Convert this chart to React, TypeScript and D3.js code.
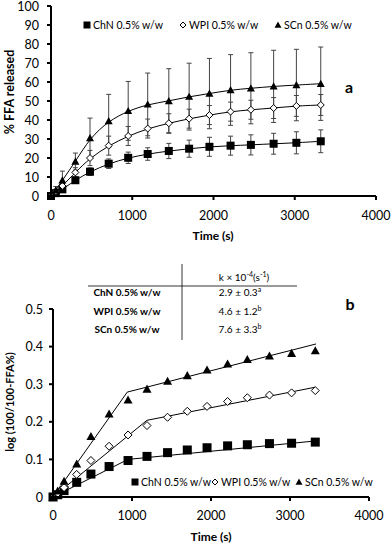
import React from "react";
import * as d3 from "d3";

// sampling times (s)
const times = [0, 60, 140, 300, 480, 710, 950, 1190, 1450, 1700, 1950, 2210, 2460, 2740, 3020, 3320];

const seriesNames = ["ChN 0.5% w/w", "WPI 0.5% w/w", "SCn 0.5% w/w"];
const seriesShapes = ["square", "diamond", "triangle"];

// panel a: % FFA released, mean and sd
const chnFfa = [0, 1.5, 3.5, 8.3, 12.8, 17, 20.1, 22.1, 23.7, 24.9, 25.9, 26.5, 26.9, 27.5, 28, 28.8];
const wpiFfa = [0, 2.5, 5.3, 12.4, 20, 26.5, 31.6, 35.5, 38.3, 40.7, 42.6, 44.4, 45.4, 46.3, 47.4, 47.9];
const scnFfa = [0, 3, 8.3, 18.1, 30.5, 39.5, 44.8, 48.2, 50, 52.3, 53.9, 55.8, 56.7, 57.7, 58.4, 59.1];
const chnSd = [0, 0.5, 1, 1.5, 2, 2.5, 3, 3.3, 4, 4.5, 5, 5, 5.3, 5.5, 5.8, 6];
const wpiSd = [0, 1, 1.5, 2.5, 4, 5, 5, 5, 5, 5, 5, 5, 5, 5.5, 5.5, 5.5];
const scnSd = [0, 2, 4.8, 4.5, 10.5, 14, 15.5, 16.5, 17, 17.6, 18.5, 18.6, 18.7, 19, 18.8, 19.3];

// panel b: log(100/(100-FFA%))
const chnLog = [0, 0.006, 0.017, 0.039, 0.061, 0.081, 0.097, 0.108, 0.118, 0.125, 0.131, 0.136, 0.139, 0.142, 0.143, 0.146];
const wpiLog = [0, 0.01, 0.025, 0.06, 0.097, 0.135, 0.165, 0.19, 0.212, 0.228, 0.241, 0.254, 0.264, 0.271, 0.277, 0.283];
const scnLog = [0, 0.016, 0.042, 0.088, 0.161, 0.221, 0.258, 0.287, 0.308, 0.323, 0.338, 0.354, 0.366, 0.375, 0.382, 0.389];

// two-phase linear fits [time, value]
const chnFit: [number, number][] = [[0, 0], [950, 0.1], [3320, 0.149]];
const wpiFit: [number, number][] = [[0, 0], [1190, 0.204], [3320, 0.292]];
const scnFit: [number, number][] = [[0, 0], [940, 0.279], [3330, 0.407]];

// rate constant table
const kValues = ["2.9 ± 0.3", "4.6 ± 1.2", "7.6 ± 3.3"];
const kLetters = ["a", "b", "b"];

const topTicksX = [0, 1000, 2000, 3000, 4000];
const topTicksY = [0, 10, 20, 30, 40, 50, 60, 70, 80, 90, 100];
const botTicksY = [0, 0.1, 0.2, 0.3, 0.4, 0.5];

const FONT = "Lato, 'Open Sans', sans-serif";

function Marker({ shape, x, y, s }: { shape: string; x: number; y: number; s: number }) {
  if (shape === "square") {
    return <rect x={x - s / 2} y={y - s / 2} width={s} height={s} fill="#000" />;
  }
  if (shape === "diamond") {
    const h = s / 2;
    return (
      <path
        d={`M${x},${y - h}L${x + h},${y}L${x},${y + h}L${x - h},${y}Z`}
        fill="#fff"
        stroke="#000"
        strokeWidth={1}
      />
    );
  }
  const h = s / 2;
  return <path d={`M${x},${y - h}L${x + h},${y + h * 0.8}L${x - h},${y + h * 0.8}Z`} fill="#000" />;
}

export default function App() {
  const xA = d3.scaleLinear().domain([0, 4000]).range([51, 376]);
  const yA = d3.scaleLinear().domain([0, 100]).range([196, 6]);
  const xB = d3.scaleLinear().domain([0, 4000]).range([53, 369]);
  const yB = d3.scaleLinear().domain([0, 0.5]).range([497, 309]);

  const ffa = [chnFfa, wpiFfa, scnFfa];
  const sds = [chnSd, wpiSd, scnSd];
  const logs = [chnLog, wpiLog, scnLog];
  const fits = [chnFit, wpiFit, scnFit];

  // smooth fitted curve through the means
  const curve = d3
    .line<number>()
    .x((_, i) => xA(times[i]))
    .y((d) => yA(d))
    .curve(d3.curveBasis);
  const fitLine = d3
    .line<[number, number]>()
    .x((d) => xB(d[0]))
    .y((d) => yB(d[1]));

  const topLegend = [87, 183, 278];
  const botLegend = [135, 215, 299];

  return (
    <svg
      width={392}
      height={544}
      style={{ position: "absolute", left: 0, top: 0, background: "#fff" }}
      fontFamily={FONT}
    >
      {/* ---------- panel a ---------- */}
      <g>
        {/* error bars */}
        {ffa.map((vals, si) =>
          vals.map((v, i) => {
            const sd = sds[si][i];
            if (!sd) return null;
            const x = xA(times[i]);
            const y1 = yA(v + sd);
            const y2 = yA(v - sd);
            return (
              <g key={`eb${si}-${i}`} stroke="#444" strokeWidth={1}>
                <line x1={x} x2={x} y1={y1} y2={y2} />
                <line x1={x - 2.5} x2={x + 2.5} y1={y1} y2={y1} />
                <line x1={x - 2.5} x2={x + 2.5} y1={y2} y2={y2} />
              </g>
            );
          })
        )}
        {ffa.map((vals, si) => (
          <path key={`c${si}`} d={curve(vals) || ""} fill="none" stroke="#000" strokeWidth={1} />
        ))}
        {ffa.map((vals, si) =>
          vals.map((v, i) => (
            <Marker
              key={`m${si}-${i}`}
              shape={seriesShapes[si]}
              x={xA(times[i])}
              y={yA(v)}
              s={si === 1 ? 7 : 8}
            />
          ))
        )}
        {/* axes */}
        <line x1={xA(0)} x2={xA(0)} y1={yA(100)} y2={yA(0) + 1} stroke="#000" strokeWidth={2} />
        <line x1={xA(0) - 1} x2={xA(4000)} y1={yA(0)} y2={yA(0)} stroke="#000" strokeWidth={2} />
        {topTicksY.map((t) => (
          <g key={`ty${t}`}>
            <line x1={xA(0) - 4} x2={xA(0)} y1={yA(t)} y2={yA(t)} stroke="#000" strokeWidth={2} />
            <text x={39} y={yA(t) + 4.5} fontSize={12.5} textAnchor="end">
              {t}
            </text>
          </g>
        ))}
        {topTicksX.map((t) => (
          <g key={`tx${t}`}>
            <line x1={xA(t)} x2={xA(t)} y1={yA(0)} y2={yA(0) + 4} stroke="#000" strokeWidth={2} />
            <text x={xA(t)} y={220} fontSize={12.5} textAnchor="middle">
              {t}
            </text>
          </g>
        ))}
        <text x={213} y={240} fontSize={12} fontWeight="bold" textAnchor="middle">
          Time (s)
        </text>
        <text
          transform="translate(14,92) rotate(-90)"
          fontSize={12.5}
          fontWeight="bold"
          textAnchor="middle"
        >
          % FFA released
        </text>
        {seriesNames.map((n, i) => (
          <g key={`tl${i}`}>
            <Marker shape={seriesShapes[i]} x={topLegend[i]} y={25} s={i === 1 ? 6 : 7} />
            <text x={topLegend[i] + 6} y={28.5} fontSize={10.5}>
              {n}
            </text>
          </g>
        ))}
        <text x={349} y={93} fontSize={16} fontWeight="bold" textAnchor="middle">
          a
        </text>
      </g>

      {/* ---------- table ---------- */}
      <g fontSize={10}>
        <line x1={88} x2={297} y1={286} y2={286} stroke="#000" strokeWidth={0.8} />
        <line x1={182} x2={182} y1={264} y2={340} stroke="#000" strokeWidth={0.8} />
        <text x={244} y={281} textAnchor="middle">
          k × 10
          <tspan dy={-4} fontSize={7}>
            -4
          </tspan>
          <tspan dy={4}>(s</tspan>
          <tspan dy={-4} fontSize={7}>
            -1
          </tspan>
          <tspan dy={4}>)</tspan>
        </text>
        {seriesNames.map((n, i) => (
          <g key={`row${i}`}>
            <text x={127} y={296 + i * 18.5} textAnchor="middle" fontWeight="bold">
              {n}
            </text>
            <text x={240} y={296 + i * 18.5} textAnchor="middle">
              {kValues[i]}
              <tspan dy={-4} fontSize={7}>
                {kLetters[i]}
              </tspan>
            </text>
          </g>
        ))}
      </g>

      {/* ---------- panel b ---------- */}
      <g>
        {fits.map((f, si) => (
          <path key={`f${si}`} d={fitLine(f) || ""} fill="none" stroke="#000" strokeWidth={1} />
        ))}
        {logs.map((vals, si) =>
          vals.map((v, i) => (
            <Marker
              key={`b${si}-${i}`}
              shape={seriesShapes[si]}
              x={xB(times[i])}
              y={yB(v)}
              s={si === 1 ? 8 : 9}
            />
          ))
        )}
        <line x1={xB(0)} x2={xB(0)} y1={yB(0.5)} y2={yB(0) + 1} stroke="#000" strokeWidth={2} />
        <line x1={xB(0) - 1} x2={xB(4000)} y1={yB(0)} y2={yB(0)} stroke="#000" strokeWidth={2} />
        {botTicksY.map((t) => (
          <g key={`by${t}`}>
            <line x1={xB(0) - 4} x2={xB(0)} y1={yB(t)} y2={yB(t)} stroke="#000" strokeWidth={2} />
            <text x={43} y={yB(t) + 4.5} fontSize={12.5} textAnchor="end">
              {d3.format("~g")(t)}
            </text>
          </g>
        ))}
        {topTicksX.map((t) => (
          <g key={`bx${t}`}>
            <line x1={xB(t)} x2={xB(t)} y1={yB(0)} y2={yB(0) + 4} stroke="#000" strokeWidth={2} />
            <text x={xB(t)} y={520} fontSize={12.5} textAnchor="middle">
              {t}
            </text>
          </g>
        ))}
        <text x={211} y={541} fontSize={12} fontWeight="bold" textAnchor="middle">
          Time (s)
        </text>
        <text
          transform="translate(14,402) rotate(-90)"
          fontSize={11}
          fontWeight="bold"
          textAnchor="middle"
        >
          log (100/100-FFA%)
        </text>
        {seriesNames.map((n, i) => (
          <g key={`bl${i}`}>
            <Marker shape={seriesShapes[i]} x={botLegend[i]} y={482} s={i === 1 ? 6 : 7} />
            <text x={botLegend[i] + 6} y={485.5} fontSize={10.5}>
              {n}
            </text>
          </g>
        ))}
        <text x={350} y={310} fontSize={16} fontWeight="bold" textAnchor="middle">
          b
        </text>
      </g>
    </svg>
  );
}
